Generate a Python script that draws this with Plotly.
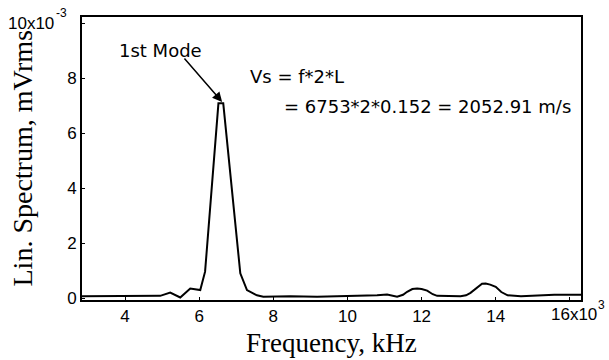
import plotly.graph_objects as go

# Frequency in kHz (axis shown as x10^3 Hz), amplitude in x10^-3 mVrms
freq = [2.84, 3.5, 4.0, 4.5, 4.95, 5.22, 5.49, 5.76, 6.03, 6.16, 6.52, 6.65,
        7.11, 7.29, 7.56, 7.73, 8.46, 9.18, 10.26, 10.8, 11.07, 11.34, 11.5,
        11.61, 11.75, 11.88, 12.0, 12.15, 12.3, 12.42, 13.05, 13.2, 13.32,
        13.5, 13.63, 13.73, 13.85, 14.0, 14.15, 14.32, 14.68, 15.58, 16.3]
amp = [0.07, 0.07, 0.07, 0.07, 0.08, 0.2, 0.02, 0.35, 0.29, 0.96, 7.08, 7.08,
       0.9, 0.29, 0.1, 0.05, 0.07, 0.05, 0.07, 0.1, 0.13, 0.05, 0.12,
       0.23, 0.33, 0.35, 0.33, 0.27, 0.14, 0.08, 0.07, 0.1, 0.19,
       0.4, 0.52, 0.53, 0.49, 0.41, 0.22, 0.1, 0.07, 0.12, 0.12]

x_ticks = [4, 6, 8, 10, 12, 14, 16]
x_ticklabels = ["4", "6", "8", "10", "12", "14", ""]
x_last_label = "16x10"
x_exponent = "3"
y_ticks = [0, 2, 4, 6, 8, 10]
y_ticklabels = ["0", "2", "4", "6", "8", ""]
y_last_label = "10x10"
y_exponent = "-3"

sans = "Liberation Sans, Arial, sans-serif"
serif = "Liberation Serif, Times New Roman, serif"
tick_font = dict(family=sans, size=17, color="black")
exp_font = dict(family=sans, size=12, color="black")
ann_font = dict(family="DejaVu Sans, sans-serif", size=18, color="black")

fig = go.Figure()
fig.add_trace(go.Scatter(x=freq, y=amp, mode="lines",
                         line=dict(color="black", width=2), showlegend=False))

fig.update_layout(
    width=609, height=360,
    margin=dict(l=82, r=28, t=17, b=60),
    paper_bgcolor="white", plot_bgcolor="white",
    xaxis=dict(range=[2.84, 16.3], tickvals=x_ticks, ticktext=x_ticklabels,
               showgrid=False, zeroline=False, showline=True, mirror=True,
               linecolor="black", linewidth=2, ticks="inside", ticklen=3,
               tickcolor="black", tickfont=tick_font),
    yaxis=dict(range=[-0.07, 10.22], tickvals=y_ticks, ticktext=y_ticklabels,
               showgrid=False, zeroline=False, showline=True, mirror=True,
               linecolor="black", linewidth=2, ticks="inside", ticklen=3,
               tickcolor="black", tickfont=tick_font),
    annotations=[
        # x-axis last tick label with exponent
        dict(text=x_last_label, xref="paper", yref="paper", x=1, y=0,
             xanchor="left", yanchor="middle", xshift=-30, yshift=-14,
             showarrow=False, borderpad=0, borderwidth=0, font=tick_font),
        dict(text=x_exponent, xref="paper", yref="paper", x=1, y=0,
             xanchor="left", yanchor="middle", xshift=17, yshift=-5,
             showarrow=False, borderpad=0, borderwidth=0, font=exp_font),
        # y-axis top tick label with exponent
        dict(text=y_last_label, xref="paper", yref="y", x=0, y=10,
             xanchor="right", yanchor="middle", xshift=-28,
             showarrow=False, borderpad=0, borderwidth=0, font=tick_font),
        dict(text=y_exponent, xref="paper", yref="y", x=0, y=10,
             xanchor="left", yanchor="middle", xshift=-26, yshift=10,
             showarrow=False, borderpad=0, borderwidth=0, font=exp_font),
        dict(text="Frequency, kHz", xref="paper", yref="paper", x=0.5, y=0,
             xanchor="center", yanchor="top", yshift=-26, showarrow=False,
             font=dict(family=serif, size=27, color="black")),
        dict(text="Lin. Spectrum, mVrms", xref="paper", yref="paper", x=0, y=0.5,
             xanchor="center", yanchor="middle", xshift=-60, textangle=-90,
             showarrow=False, font=dict(family=serif, size=28, color="black")),
        dict(text="1st Mode", xref="x", yref="y", x=4.95, y=9.02,
             xanchor="center", yanchor="middle", showarrow=False, font=ann_font),
        dict(text="", xref="x", yref="y", x=6.62, y=7.13, ax=-39, ay=-45,
             showarrow=True, arrowhead=2, arrowsize=1.3, arrowwidth=1.5,
             arrowcolor="black"),
        dict(text="Vs = f*2*L", xref="x", yref="y", x=7.32, y=8.04,
             xanchor="left", yanchor="middle", showarrow=False, font=ann_font),
        dict(text="= 6753*2*0.152 = 2052.91 m/s", xref="x", yref="y", x=8.24, y=6.95,
             xanchor="left", yanchor="middle", showarrow=False, font=ann_font),
    ],
)

fig.write_html("out.html")
